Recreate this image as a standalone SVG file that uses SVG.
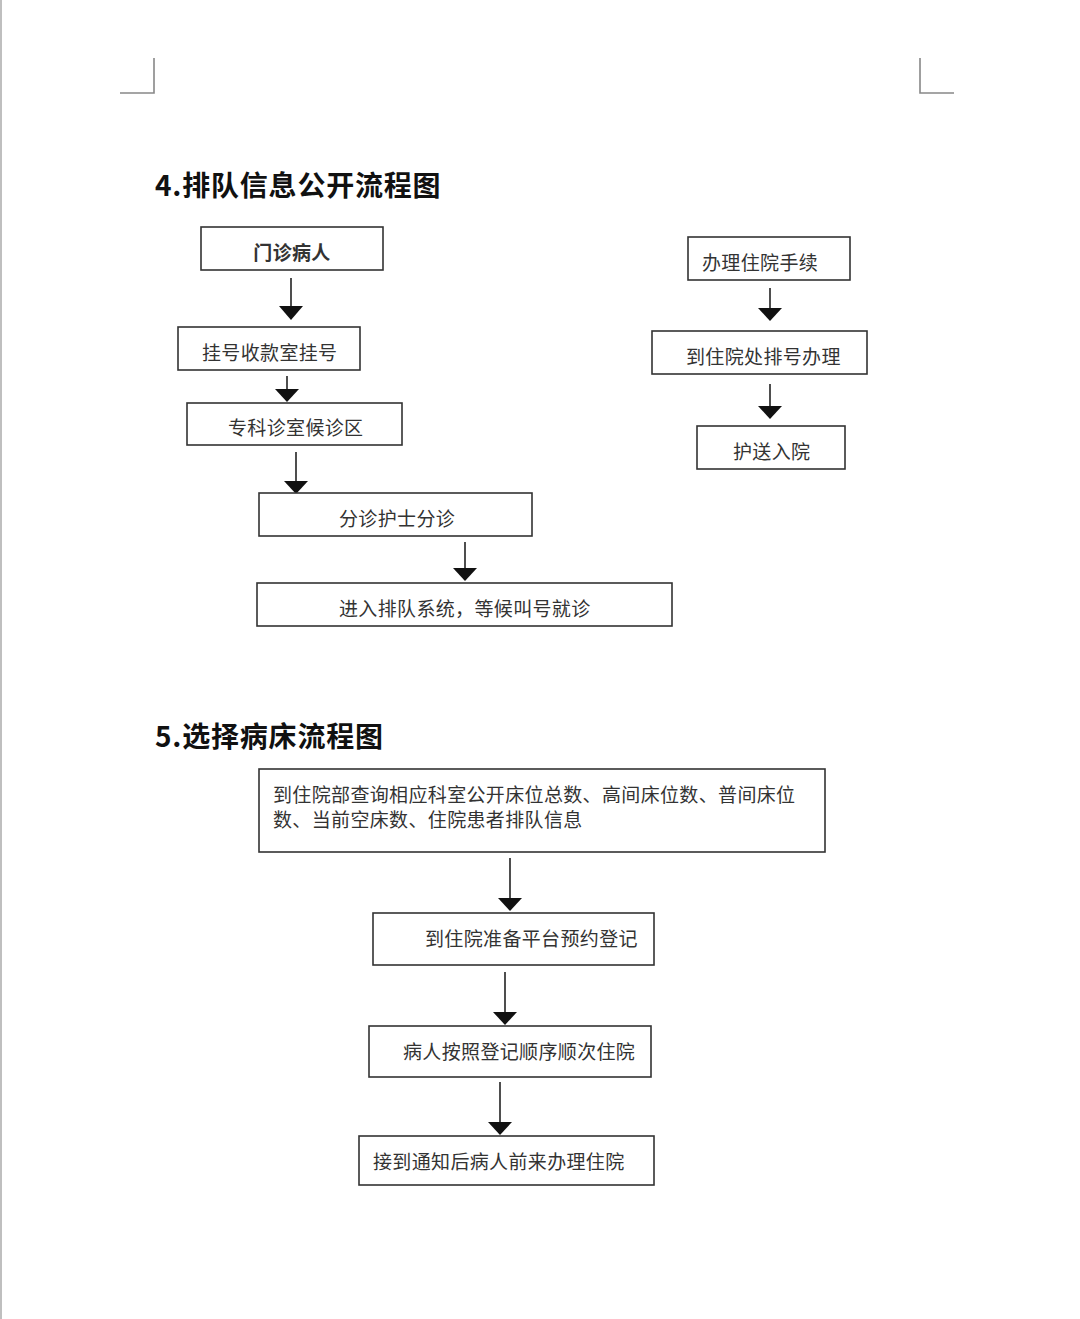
<svg xmlns="http://www.w3.org/2000/svg" width="1080" height="1319" viewBox="0 0 1080 1319">
<style>
.box{fill:#fff;stroke:#333;stroke-width:1.6}
.t{font-family:"Noto Sans CJK SC","Noto Sans",sans-serif;font-size:19px;fill:#333;letter-spacing:0.35px}
.h{font-family:"Noto Sans CJK SC","Noto Sans",sans-serif;font-size:28px;font-weight:bold;fill:#111;letter-spacing:0.8px}
.ln{stroke:#222;stroke-width:1.6;fill:none}
.hd{fill:#111}
.mk{stroke:#888;stroke-width:1.6;fill:none}
</style>
<rect width="1080" height="1319" fill="#fff"/>
<line x1="1" y1="0" x2="1" y2="1319" stroke="#aaa" stroke-width="1.5"/>
<g id="cornermarks">
<path class="mk" d="M154,58 V93 H120"/>
<path class="mk" d="M920,58 V93 H954"/>
</g>
<text class="h" x="155" y="196">4.排队信息公开流程图</text>
<text class="h" x="155" y="747">5.选择病床流程图</text>
<g id="connectors">
<line class="ln" x1="291" y1="278" x2="291" y2="306"/>
<path class="hd" d="M279,306 L303,306 L291,320 Z"/>
<line class="ln" x1="287" y1="376" x2="287" y2="389"/>
<path class="hd" d="M275,389 L299,389 L287,402 Z"/>
<line class="ln" x1="296" y1="452" x2="296" y2="481"/>
<path class="hd" d="M284,481 L308,481 L296,494 Z"/>
<line class="ln" x1="465" y1="542" x2="465" y2="568"/>
<path class="hd" d="M453,568 L477,568 L465,581 Z"/>
<line class="ln" x1="770" y1="288" x2="770" y2="308"/>
<path class="hd" d="M758,308 L782,308 L770,321 Z"/>
<line class="ln" x1="770" y1="384" x2="770" y2="406"/>
<path class="hd" d="M758,406 L782,406 L770,419 Z"/>
<line class="ln" x1="510" y1="858" x2="510" y2="898"/>
<path class="hd" d="M498,898 L522,898 L510,911 Z"/>
<line class="ln" x1="505" y1="972" x2="505" y2="1012"/>
<path class="hd" d="M493,1012 L517,1012 L505,1025 Z"/>
<line class="ln" x1="500" y1="1082" x2="500" y2="1122"/>
<path class="hd" d="M488,1122 L512,1122 L500,1135 Z"/>
</g>
<g id="n1"><rect class="box" x="201" y="227" width="182" height="43"/><text class="t" x="292" y="260" text-anchor="middle" font-weight="bold" fill="#222">门诊病人</text></g>
<g id="n2"><rect class="box" x="178" y="327" width="182" height="43"/><text class="t" x="202" y="360">挂号收款室挂号</text></g>
<g id="n3"><rect class="box" x="187" y="403" width="215" height="42"/><text class="t" x="228" y="435">专科诊室候诊区</text></g>
<g id="n4"><rect class="box" x="259" y="493" width="273" height="43"/><text class="t" x="339" y="526">分诊护士分诊</text></g>
<g id="n5"><rect class="box" x="257" y="583" width="415" height="43"/><text class="t" x="339" y="616">进入排队系统，等候叫号就诊</text></g>
<g id="r1"><rect class="box" x="688" y="237" width="162" height="43"/><text class="t" x="702" y="270">办理住院手续</text></g>
<g id="r2"><rect class="box" x="652" y="331" width="215" height="43"/><text class="t" x="686" y="364">到住院处排号办理</text></g>
<g id="r3"><rect class="box" x="697" y="426" width="148" height="43"/><text class="t" x="733" y="459">护送入院</text></g>
<g id="b1"><rect class="box" x="259" y="769" width="566" height="83"/><text class="t" x="273" y="802">到住院部查询相应科室公开床位总数、高间床位数、普间床位</text><text class="t" x="273" y="827">数、当前空床数、住院患者排队信息</text></g>
<g id="b2"><rect class="box" x="373" y="913" width="281" height="52"/><text class="t" x="425" y="946">到住院准备平台预约登记</text></g>
<g id="b3"><rect class="box" x="369" y="1026" width="282" height="51"/><text class="t" x="403" y="1059">病人按照登记顺序顺次住院</text></g>
<g id="b4"><rect class="box" x="359" y="1136" width="295" height="49"/><text class="t" x="373" y="1169">接到通知后病人前来办理住院</text></g>
</svg>
